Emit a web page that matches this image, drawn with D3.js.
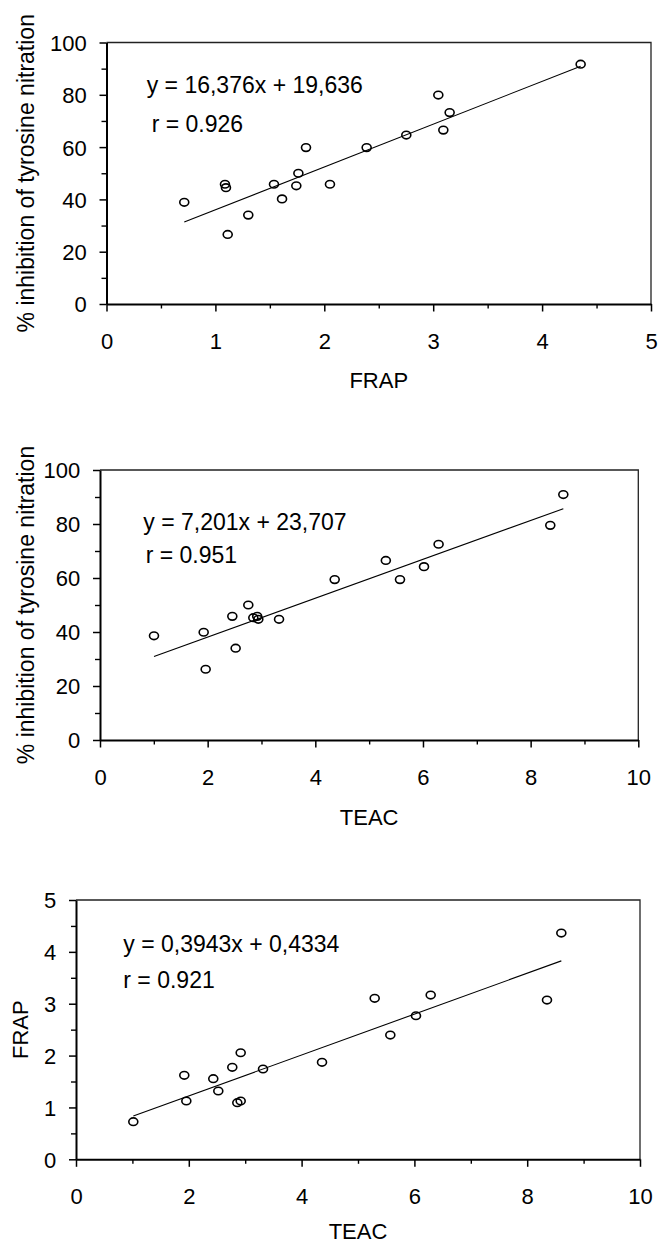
<!DOCTYPE html>
<html><head><meta charset="utf-8">
<script src="https://cdn.jsdelivr.net/npm/d3@7"></script>
<style>
body{margin:0;background:#fff}
svg{display:block}
text{font-family:"Liberation Sans",Arial,Helvetica,sans-serif;fill:#000}
</style>
</head><body>
<svg id="c" width="658" height="1244"></svg>
<script>
// ---------- DATA ----------
// Panel 1: FRAP vs % inhibition of tyrosine nitration
const frap1 = [0.714,1.088,1.097,1.113,1.302,1.538,1.612,1.743,1.762,1.832,2.052,2.389,2.753,3.047,3.093,3.151,4.354];
const inhib1 = [38.9,45.8,44.5,26.6,34.0,45.8,40.2,45.2,50.0,59.8,45.8,59.8,64.6,79.9,66.5,73.2,91.7];
// Panel 2: TEAC vs % inhibition of tyrosine nitration
const teac2 = [1.003,1.926,1.963,2.458,2.520,2.755,2.848,2.920,2.941,3.326,4.360,5.310,5.573,6.019,6.290,8.365,8.607];
const inhib2 = [38.6,39.9,26.2,45.8,34.0,50.0,45.3,45.8,44.7,44.7,59.4,66.5,59.4,64.2,72.5,79.5,90.9];
// Panel 3: TEAC vs FRAP
const teac3 = [1.016,1.920,1.956,2.434,2.523,2.771,2.860,2.920,2.920,3.316,4.362,5.296,5.573,6.028,6.289,8.351,8.605];
const frap3 = [0.725,1.620,1.124,1.554,1.317,1.774,1.091,1.124,2.055,1.741,1.870,3.104,2.396,2.768,3.167,3.071,4.363];
// regression parameters and labels
const slopes = [16.376, 7.201, 0.3943];
const intercepts = [19.636, 23.707, 0.4334];
const equations = ["y = 16,376x + 19,636", "y = 7,201x + 23,707", "y = 0,3943x + 0,4334"];
const rLabels = ["r = 0.926", "r = 0.951", "r = 0.921"];
const xTitles = ["FRAP", "TEAC", "TEAC"];
const yTitles = ["% inhibition of tyrosine nitration", "% inhibition of tyrosine nitration", "FRAP"];
const xTicks1 = [0,1,2,3,4,5];
const xTicks23 = [0,2,4,6,8,10];
const yTicks12 = [0,20,40,60,80,100];
const yTicks3 = [0,1,2,3,4,5];

// ---------- LAYOUT ----------
const svg = d3.select("#c");
const FS = 22, FS2 = 23;
const fmt = d3.format("d");
const panels = [
  {xs: frap1, ys: inhib1, xd:[0,5], yd:[0,100], xt:xTicks1, yt:yTicks12, xm:0.5, ym:10,
   L:106.5, R:651, T:42.5, B:304, eq:[146.7,93.3], r:[151.7,131.7], ytx:33.5, xty:387.7},
  {xs: teac2, ys: inhib2, xd:[0,10], yd:[0,100], xt:xTicks23, yt:yTicks12, xm:1, ym:10,
   L:100, R:638.3, T:470, B:740, eq:[143.3,530], r:[145.7,563.3], ytx:33.5, xty:824.5},
  {xs: teac3, ys: frap3, xd:[0,10], yd:[0,5], xt:xTicks23, yt:yTicks3, xm:1, ym:0.5,
   L:76, R:640, T:900, B:1159.3, eq:[123.3,951.7], r:[123.3,988.3], ytx:28.3, xty:1238.5}
];

panels.forEach((p, i) => {
  const g = svg.append("g");
  const x = d3.scaleLinear().domain(p.xd).range([p.L, p.R]);
  const y = d3.scaleLinear().domain(p.yd).range([p.B, p.T]);

  // frame (top and right)
  g.append("path").attr("d", `M${p.L},${p.T}H${p.R}V${p.B}`)
    .attr("fill","none").attr("stroke","#222").attr("stroke-width",1.3);

  // minor ticks
  const xMinor = d3.range(p.xd[0] + p.xm, p.xd[1], p.xm * 2);
  const yMinor = d3.range(p.yd[0] + p.ym, p.yd[1], p.ym * 2);
  const xMinAx = d3.axisBottom(x).tickValues(xMinor).tickSize(4.5).tickFormat("").tickSizeOuter(0);
  const yMinAx = d3.axisLeft(y).tickValues(yMinor).tickSize(5).tickFormat("").tickSizeOuter(0);
  const gxm = g.append("g").attr("transform",`translate(0,${p.B})`).call(xMinAx);
  const gym = g.append("g").attr("transform",`translate(${p.L},0)`).call(yMinAx);
  [gxm, gym].forEach(a => { a.select(".domain").remove(); a.selectAll("line").attr("stroke","#000").attr("stroke-width",1.4); });

  // major axes
  const xAx = d3.axisBottom(x).tickValues(p.xt).tickFormat(fmt).tickSize(7.5).tickPadding(22).tickSizeOuter(0);
  const yAx = d3.axisLeft(y).tickValues(p.yt).tickFormat(fmt).tickSize(7).tickPadding(12.8).tickSizeOuter(0);
  const gx = g.append("g").attr("transform",`translate(0,${p.B})`).call(xAx);
  const gy = g.append("g").attr("transform",`translate(${p.L},0)`).call(yAx);
  [gx, gy].forEach(a => {
    a.select(".domain").attr("stroke","#000").attr("stroke-width",2);
    a.selectAll("line").attr("stroke","#000").attr("stroke-width",1.5);
    a.selectAll("text").style("font-size", FS + "px").attr("fill","#000")
      .style("font-family","'Liberation Sans',Arial,sans-serif");
  });
  gy.selectAll("text").attr("dy","0.36em");

  // regression line
  const x0 = d3.min(p.xs), x1 = d3.max(p.xs);
  g.append("line")
    .attr("x1", x(x0)).attr("y1", y(slopes[i]*x0 + intercepts[i]))
    .attr("x2", x(x1)).attr("y2", y(slopes[i]*x1 + intercepts[i]))
    .attr("stroke","#000").attr("stroke-width",1.1);

  // points
  g.selectAll("ellipse.pt").data(p.xs.map((v,k)=>[v,p.ys[k]])).join("ellipse")
    .attr("class","pt")
    .attr("cx", d => x(d[0])).attr("cy", d => y(d[1]))
    .attr("rx", 4.5).attr("ry", 3.8)
    .attr("fill","none").attr("stroke","#000").attr("stroke-width",1.6);

  // equation and r
  g.append("text").attr("x", p.eq[0]).attr("y", p.eq[1]).style("font-size", FS2+"px").text(equations[i]);
  g.append("text").attr("x", p.r[0]).attr("y", p.r[1]).style("font-size", FS2+"px").text(rLabels[i]);

  // axis titles
  g.append("text").attr("x", (p.L + p.R)/2).attr("y", p.xty)
    .attr("text-anchor","middle").style("font-size", FS+"px").text(xTitles[i]);
  g.append("text").attr("transform", `translate(${p.ytx},${(p.T + p.B)/2}) rotate(-90)`)
    .attr("text-anchor","middle").style("font-size", (i < 2 ? FS2 : FS)+"px").text(yTitles[i]);
});
</script>
</body></html>
